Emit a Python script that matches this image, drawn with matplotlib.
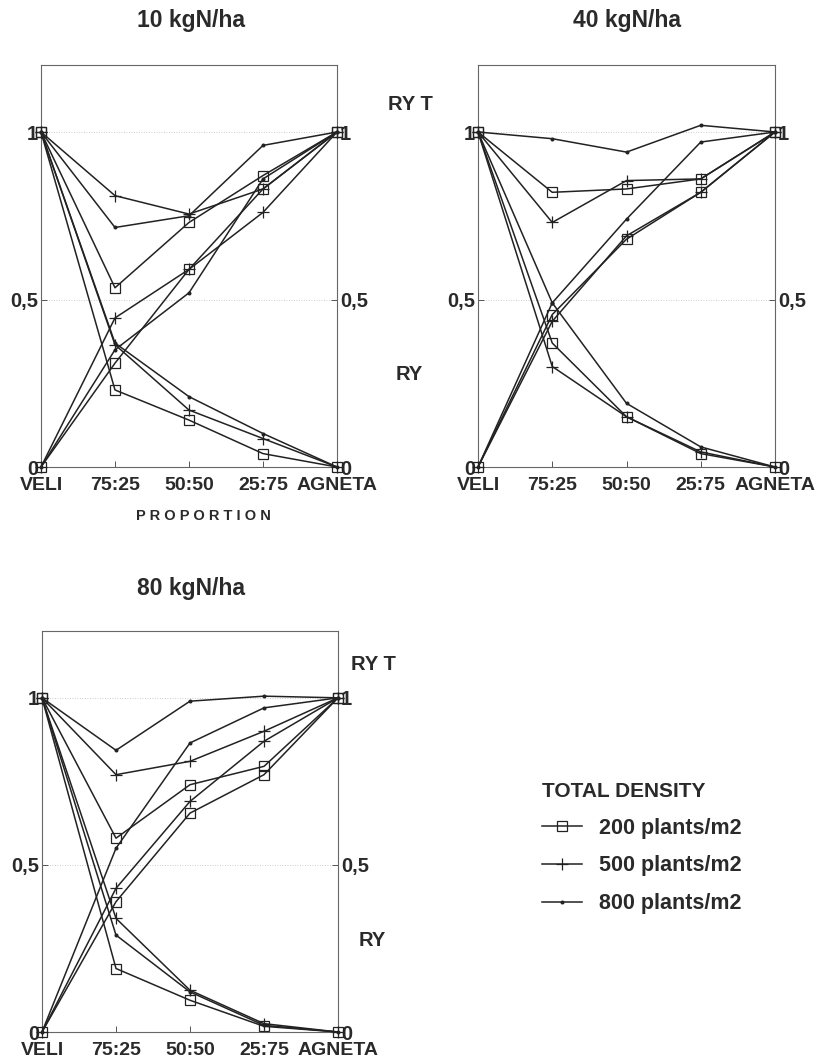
import numpy as np
import matplotlib
matplotlib.use("Agg")
import matplotlib.pyplot as plt
from matplotlib.lines import Line2D

plt.rcParams['font.family'] = ['Liberation Sans', 'DejaVu Sans']

proportions = ["VELI", "75:25", "50:50", "25:75", "AGNETA"]
densities = ["200 plants/m2", "500 plants/m2", "800 plants/m2"]
markers = ["s", "+", "."]
titles = ["10 kgN/ha", "40 kgN/ha", "80 kgN/ha"]

# rows: 200, 500, 800 plants/m2
ryt_10 = [[1, 0.535, 0.73, 0.87, 1],
          [1, 0.81, 0.755, 0.83, 1],
          [1, 0.715, 0.75, 0.96, 1]]
ry_veli_10 = [[1, 0.23, 0.14, 0.04, 0],
              [1, 0.365, 0.17, 0.085, 0],
              [1, 0.37, 0.21, 0.10, 0]]
ry_agneta_10 = [[0, 0.31, 0.59, 0.83, 1],
                [0, 0.445, 0.59, 0.76, 1],
                [0, 0.35, 0.52, 0.86, 1]]

ryt_40 = [[1, 0.82, 0.83, 0.86, 1],
          [1, 0.73, 0.855, 0.86, 1],
          [1, 0.98, 0.94, 1.02, 1]]
ry_veli_40 = [[1, 0.37, 0.15, 0.04, 0],
              [1, 0.30, 0.15, 0.045, 0],
              [1, 0.49, 0.19, 0.06, 0]]
ry_agneta_40 = [[0, 0.455, 0.68, 0.82, 1],
                [0, 0.435, 0.69, 0.82, 1],
                [0, 0.49, 0.74, 0.97, 1]]

ryt_80 = [[1, 0.58, 0.74, 0.795, 1],
          [1, 0.77, 0.81, 0.90, 1],
          [1, 0.843, 0.99, 1.005, 1]]
ry_veli_80 = [[1, 0.19, 0.095, 0.017, 0],
              [1, 0.34, 0.125, 0.025, 0],
              [1, 0.29, 0.12, 0.02, 0]]
ry_agneta_80 = [[0, 0.39, 0.655, 0.77, 1],
                [0, 0.43, 0.69, 0.87, 1],
                [0, 0.55, 0.865, 0.97, 1]]

panels = [(ryt_10, ry_veli_10, ry_agneta_10),
          (ryt_40, ry_veli_40, ry_agneta_40),
          (ryt_80, ry_veli_80, ry_agneta_80)]

W, H = 816, 1060
fig = plt.figure(figsize=(W / 100, H / 100), dpi=100)

def px(x0, y0, x1, y1):
    return [x0 / W, 1 - y1 / H, (x1 - x0) / W, (y1 - y0) / H]

boxes = [px(41, 65, 337, 467), px(478, 65, 775, 467), px(42, 631, 338, 1032)]
title_pos = [(191, 20), (627, 20), (191, 588)]

lc = "#222222"
tc = "#2a2a2a"
msize = {"s": 6.5, "+": 9, ".": 4}
x = np.arange(5)
axes = []
for i, (ryt, veli, agneta) in enumerate(panels):
    ax = fig.add_axes(boxes[i])
    axes.append(ax)
    for j in range(3):
        m = markers[j]
        for series in (ryt[j], veli[j], agneta[j]):
            ax.plot(x, series, color=lc, lw=1.1, marker=m, ms=msize[m],
                    mfc="none" if m == "s" else lc, mec=lc, mew=0.9,
                    clip_on=False, zorder=3)
    ax.set_xlim(0, 4)
    ax.set_ylim(0, 1.2)
    ax.axhline(1, color="#bbbbbb", lw=0.6, ls=(0, (1, 2)), zorder=1)
    ax.axhline(0.5, color="#bbbbbb", lw=0.6, ls=(0, (1, 2)), zorder=1)
    ax.set_xticks(x)
    ax.set_xticklabels(proportions, fontsize=14, fontweight="bold", color=tc)
    ax.set_yticks([0, 0.5, 1])
    ax.set_yticklabels(["0", "0,5", "1"], fontsize=14.5, fontweight="bold", color=tc)
    ax.tick_params(axis="x", direction="in", length=4, width=0.7, pad=7, color="#555555")
    ax.tick_params(axis="y", direction="in", length=4, width=0.7, pad=2,
                   labelright=True, right=True, color="#555555")
    for s in ax.spines.values():
        s.set_color("#666666")
        s.set_linewidth(0.8)
    fig.text(title_pos[i][0] / W, 1 - title_pos[i][1] / H, titles[i],
             fontsize=16.5, fontweight="bold", ha="center", va="center", color=tc)

axes[0].set_xlabel("P R O P O R T I O N", fontsize=10.5, fontweight="bold", color=tc)
axes[0].xaxis.set_label_coords(0.55, -0.105)

for (tx, ty, t) in [(410, 105, "RY T"), (409, 375, "RY"), (373, 665, "RY T"), (372, 940, "RY")]:
    fig.text(tx / W, 1 - ty / H, t, fontsize=14.5, ha="center", va="center",
             color=tc, fontweight="bold")

handles = [Line2D([0], [0], color=lc, lw=1.1, marker=m, ms=msize[m],
                  mfc="none" if m == "s" else lc, mec=lc, mew=0.9) for m in markers]
leg = fig.legend(handles, densities, title="TOTAL DENSITY", frameon=False,
                 loc="upper left", bbox_to_anchor=(531 / W, 1 - 771 / H),
                 fontsize=15.5, title_fontsize=15, handlelength=1.85,
                 handletextpad=0.8, labelspacing=0.78, borderpad=0,
                 alignment="left")
leg.get_title().set_fontweight("bold")
leg.get_title().set_color(tc)
for t in leg.get_texts():
    t.set_color(tc)
    t.set_fontweight("bold")

fig.savefig("out.png", dpi=100)
